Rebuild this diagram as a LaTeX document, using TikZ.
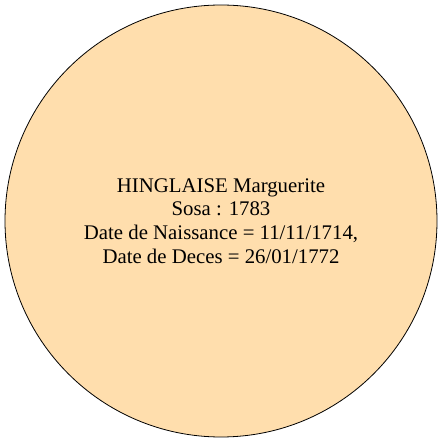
\documentclass[tikz,border=0pt]{standalone}
\usepackage{fontspec}
\setmainfont{Liberation Serif}
\usepackage{xcolor}
\usepackage{tikz}
\usetikzlibrary{positioning}
\definecolor{peche}{RGB}{255,222,173}

\begin{document}
\begin{tikzpicture}[x=1pt,y=1pt,
personne/.style={circle,draw=black,line width=0.8pt,fill=peche,minimum size=432pt,align=center,font=\fontsize{20.8}{23.6}\selectfont}
]
\useasboundingbox (0,0) rectangle (442,442);
\node[personne] (sosa) at (221,221) {HINGLAISE Marguerite\\Sosa : 1783\\Date de Naissance = 11/11/1714,\\Date de Deces = 26/01/1772};
\end{tikzpicture}
\end{document}
